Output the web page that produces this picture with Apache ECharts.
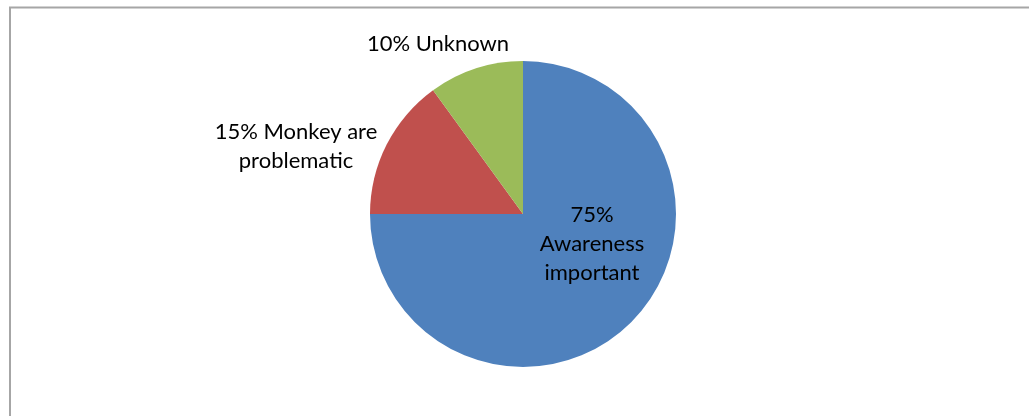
<!DOCTYPE html>
<html>
<head>
<meta charset="utf-8">
<style>
  html, body { margin: 0; padding: 0; background: #fff; }
  #chart { width: 1029px; height: 416px; }
</style>
<script src="https://cdn.jsdelivr.net/npm/echarts@6/dist/echarts.min.js"></script>
</head>
<body>
<div id="chart"></div>
<script>
// Survey responses about monkeys
const categories = ['Awareness important', 'Monkey are problematic', 'Unknown'];
const percents = [75, 15, 10];
const labelTexts = ['75%\nAwareness\nimportant', '15% Monkey are\nproblematic', '10% Unknown'];
const colors = ['#4F81BD', '#C0504D', '#9BBB59'];

// Where each slice label sits (pixel anchor of the text block centre)
const labelAnchors = [
  { x: 592, y: 244 },
  { x: 296, y: 146 },
  { x: 438, y: 44 }
];

const chart = echarts.init(document.getElementById('chart'), null, { renderer: 'canvas' });

chart.setOption({
  animation: false,
  backgroundColor: '#ffffff',
  graphic: [{
    type: 'rect',
    shape: { x: 10, y: 7.5, width: 1040, height: 440 },
    style: { fill: 'none', stroke: '#a6a6a6', lineWidth: 2 },
    silent: true
  }],
  series: [{
    type: 'pie',
    center: [523, 214],
    radius: 153,
    startAngle: 90,
    clockwise: true,
    color: colors,
    itemStyle: { borderWidth: 0 },
    labelLine: { show: false },
    label: {
      show: true,
      position: 'outside',
      formatter: (p) => labelTexts[p.dataIndex],
      fontFamily: 'Lato, "Open Sans", sans-serif',
      fontSize: 22,
      lineHeight: 29,
      color: '#000000',
      align: 'center'
    },
    labelLayout: (params) => ({
      x: labelAnchors[params.dataIndex].x,
      y: labelAnchors[params.dataIndex].y,
      align: 'center',
      verticalAlign: 'middle'
    }),
    data: categories.map((name, i) => ({ name, value: percents[i] }))
  }]
});
</script>
</body>
</html>
